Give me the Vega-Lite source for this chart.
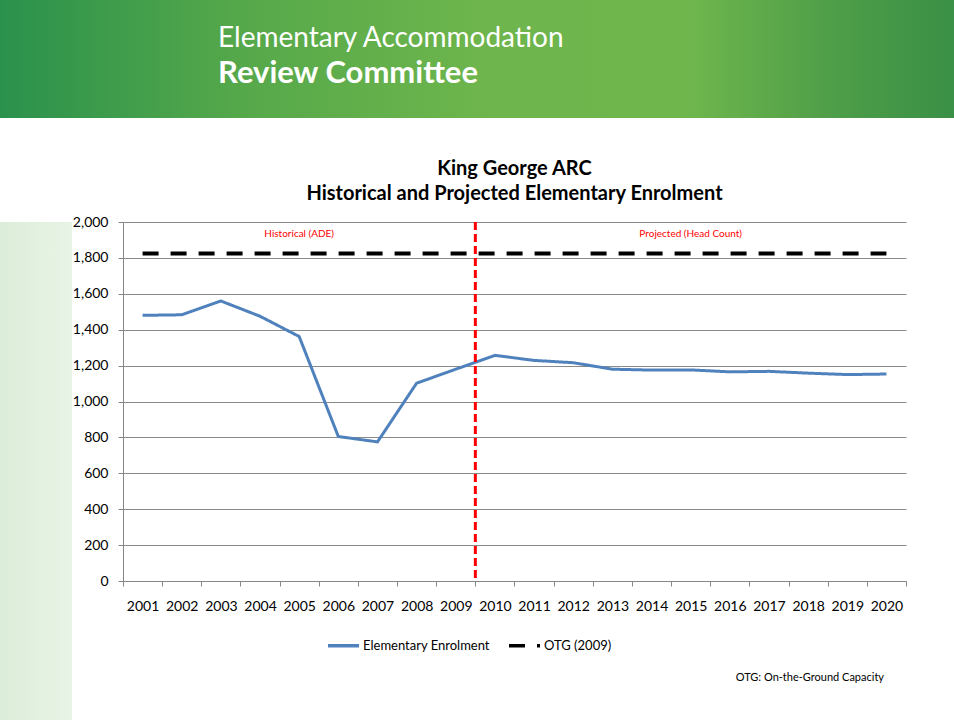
{
  "$schema": "https://vega.github.io/schema/vega-lite/v6.json",
  "padding": 0,
  "background": "white",
  "spacing": 41,
  "config": {
    "view": {"stroke": null},
    "font": "Lato"
  },
  "resolve": {"legend": {"color": "independent", "strokeDash": "independent"}},
  "title": {
    "text": "OTG:  On-the-Ground Capacity",
    "orient": "bottom",
    "anchor": "end",
    "frame": "bounds",
    "offset": -48,
    "dx": -70,
    "fontSize": 11,
    "fontWeight": "normal",
    "color": "#000000",
    "font": "Lato"
  },
  "datasets": {
    "enrolment": [
      {"year": "2001", "series": "Elementary Enrolment", "value": 1480},
      {"year": "2002", "series": "Elementary Enrolment", "value": 1483},
      {"year": "2003", "series": "Elementary Enrolment", "value": 1560},
      {"year": "2004", "series": "Elementary Enrolment", "value": 1475},
      {"year": "2005", "series": "Elementary Enrolment", "value": 1362},
      {"year": "2006", "series": "Elementary Enrolment", "value": 805},
      {"year": "2007", "series": "Elementary Enrolment", "value": 775},
      {"year": "2008", "series": "Elementary Enrolment", "value": 1102},
      {"year": "2009", "series": "Elementary Enrolment", "value": 1180},
      {"year": "2010", "series": "Elementary Enrolment", "value": 1257},
      {"year": "2011", "series": "Elementary Enrolment", "value": 1229},
      {"year": "2012", "series": "Elementary Enrolment", "value": 1216},
      {"year": "2013", "series": "Elementary Enrolment", "value": 1180},
      {"year": "2014", "series": "Elementary Enrolment", "value": 1175},
      {"year": "2015", "series": "Elementary Enrolment", "value": 1176},
      {"year": "2016", "series": "Elementary Enrolment", "value": 1165},
      {"year": "2017", "series": "Elementary Enrolment", "value": 1168},
      {"year": "2018", "series": "Elementary Enrolment", "value": 1158},
      {"year": "2019", "series": "Elementary Enrolment", "value": 1150},
      {"year": "2020", "series": "Elementary Enrolment", "value": 1153}
    ],
    "otg": [
      {"year": "2001", "series": "OTG (2009)", "value": 1825},
      {"year": "2002", "series": "OTG (2009)", "value": 1825},
      {"year": "2003", "series": "OTG (2009)", "value": 1825},
      {"year": "2004", "series": "OTG (2009)", "value": 1825},
      {"year": "2005", "series": "OTG (2009)", "value": 1825},
      {"year": "2006", "series": "OTG (2009)", "value": 1825},
      {"year": "2007", "series": "OTG (2009)", "value": 1825},
      {"year": "2008", "series": "OTG (2009)", "value": 1825},
      {"year": "2009", "series": "OTG (2009)", "value": 1825},
      {"year": "2010", "series": "OTG (2009)", "value": 1825},
      {"year": "2011", "series": "OTG (2009)", "value": 1825},
      {"year": "2012", "series": "OTG (2009)", "value": 1825},
      {"year": "2013", "series": "OTG (2009)", "value": 1825},
      {"year": "2014", "series": "OTG (2009)", "value": 1825},
      {"year": "2015", "series": "OTG (2009)", "value": 1825},
      {"year": "2016", "series": "OTG (2009)", "value": 1825},
      {"year": "2017", "series": "OTG (2009)", "value": 1825},
      {"year": "2018", "series": "OTG (2009)", "value": 1825},
      {"year": "2019", "series": "OTG (2009)", "value": 1825},
      {"year": "2020", "series": "OTG (2009)", "value": 1825}
    ],
    "divider": [{"year": "2010"}],
    "periods": [
      {"year": "2005", "label": "Historical (ADE)"},
      {"year": "2015", "label": "Projected (Head Count)"}
    ]
  },
  "vconcat": [
    {
      "width": 954,
      "height": 118,
      "data": {"values": [{"banner": "Elementary Accommodation Review Committee"}]},
      "mark": {
        "type": "rect",
        "stroke": null,
        "fill": {
          "gradient": "linear",
          "x1": 0, "y1": 0, "x2": 1, "y2": 0,
          "stops": [
            {"offset": 0, "color": "#2a914c"},
            {"offset": 0.25, "color": "#55a84a"},
            {"offset": 0.5, "color": "#6db54c"},
            {"offset": 0.72, "color": "#6fb74d"},
            {"offset": 0.87, "color": "#4f9e48"},
            {"offset": 1, "color": "#3a9046"}
          ]
        }
      },
      "title": {
        "text": "Elementary Accommodation",
        "subtitle": "Review Committee",
        "anchor": "start",
        "frame": "group",
        "dx": 218,
        "offset": -89,
        "font": "Lato",
        "fontSize": 28,
        "fontWeight": "normal",
        "color": "#ffffff",
        "subtitleFont": "Lato",
        "subtitleFontSize": 31,
        "subtitleFontWeight": "bold",
        "subtitleColor": "#ffffff",
        "subtitlePadding": 6
      }
    },
    {
      "spacing": 0,
      "resolve": {"legend": {"color": "independent", "strokeDash": "independent"}},
      "hconcat": [
        {
          "width": 72,
          "height": 498,
          "data": {"values": [{"strip": "left"}]},
          "mark": {
            "type": "rect",
            "stroke": null,
            "fill": {
              "gradient": "linear",
              "x1": 0, "y1": 0, "x2": 1, "y2": 0,
              "stops": [
                {"offset": 0, "color": "#dcedd9"},
                {"offset": 1, "color": "#e8f4e6"}
              ]
            }
          }
        },
        {
          "width": 783,
          "height": 359,
          "title": {
            "text": ["King George ARC", "Historical and Projected Elementary Enrolment"],
            "font": "Lato",
            "fontSize": 20,
            "fontWeight": "bold",
            "lineHeight": 25,
            "offset": 11,
            "color": "#000000",
            "anchor": "middle"
          },
          "layer": [
            {
              "data": {"name": "enrolment"},
              "mark": {"type": "line", "strokeWidth": 3},
              "encoding": {
                "x": {
                  "field": "year", "type": "ordinal",
                  "scale": {"type": "band", "paddingInner": 0, "paddingOuter": 0},
                  "axis": {
                    "title": null, "labelAngle": 0, "tickBand": "extent",
                    "tickSize": 5, "labelPadding": 13, "labelFontSize": 14,
                    "labelFont": "Lato", "labelColor": "#000000",
                    "domainColor": "#868686", "tickColor": "#868686", "grid": false
                  }
                },
                "y": {
                  "field": "value", "type": "quantitative",
                  "scale": {"domain": [0, 2000]},
                  "axis": {
                    "title": null, "values": [0, 200, 400, 600, 800, 1000, 1200, 1400, 1600, 1800, 2000],
                    "tickCount": 11, "labelOverlap": false,
                    "format": ",d", "tickSize": 5, "labelPadding": 10, "labelFontSize": 14,
                    "labelFont": "Lato", "labelColor": "#000000",
                    "domainColor": "#868686", "tickColor": "#868686", "gridColor": "#8a8a8a"
                  }
                },
                "color": {
                  "field": "series", "type": "nominal",
                  "scale": {"domain": ["Elementary Enrolment", "OTG (2009)"], "range": ["#4f81bd", "#000000"]},
                  "legend": {
                    "title": null, "orient": "none", "legendX": 203, "legendY": 406,
                    "direction": "horizontal",
                    "symbolType": "stroke", "symbolSize": 961, "symbolStrokeWidth": 3.5,
                    "labelFontSize": 13, "labelFont": "Lato", "labelColor": "#000000",
                    "labelOffset": 2, "columnPadding": 12
                  }
                },
                "strokeDash": {
                  "field": "series", "type": "nominal",
                  "scale": {"domain": ["Elementary Enrolment", "OTG (2009)"], "range": [[1, 0], [16, 12]]},
                  "legend": {
                    "title": null, "orient": "none", "legendX": 203, "legendY": 406,
                    "direction": "horizontal",
                    "symbolType": "stroke", "symbolSize": 961, "symbolStrokeWidth": 3.5,
                    "labelFontSize": 13, "labelFont": "Lato", "labelColor": "#000000",
                    "labelOffset": 2, "columnPadding": 12
                  }
                }
              }
            },
            {
              "data": {"name": "otg"},
              "mark": {"type": "line", "strokeWidth": 4},
              "encoding": {
                "x": {"field": "year", "type": "ordinal"},
                "y": {"field": "value", "type": "quantitative"},
                "color": {"field": "series", "type": "nominal"},
                "strokeDash": {"field": "series", "type": "nominal"}
              }
            },
            {
              "data": {"name": "divider"},
              "mark": {"type": "rule", "color": "#ff0000", "strokeDash": [8, 4], "strokeWidth": 3},
              "encoding": {
                "x": {"field": "year", "type": "ordinal", "bandPosition": 0}
              }
            },
            {
              "data": {"name": "periods"},
              "mark": {"type": "text", "color": "#ff0000", "fontSize": 10, "font": "Lato"},
              "encoding": {
                "x": {"field": "year", "type": "ordinal"},
                "y": {"datum": 1935},
                "text": {"field": "label"}
              }
            }
          ]
        }
      ]
    }
  ]
}
